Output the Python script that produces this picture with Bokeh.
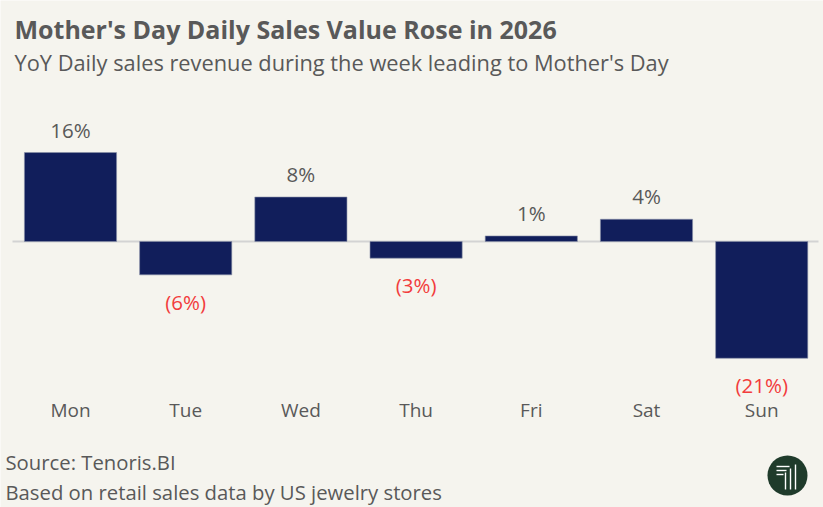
from bokeh.plotting import figure
from bokeh.models import Range1d, Label, ColumnDataSource
from bokeh.core.properties import value
from bokeh.embed import file_html
from bokeh.resources import INLINE
import numpy as np

days = ["Mon", "Tue", "Wed", "Thu", "Fri", "Sat", "Sun"]
yoy = [16, -6, 8, -3, 1, 4, -21]
labels = ["16%", "(6%)", "8%", "(3%)", "1%", "4%", "(21%)"]

title = "Mother's Day Daily Sales  Value Rose in 2026"
subtitle = "YoY Daily sales revenue during the week leading to Mother's Day"
source_txt = "Source: Tenoris.BI"
note_txt = "Based on retail sales data by US jewelry stores"

W, H = 823, 507
X0, XS = 12.4, 115.2      # pixel of category 0 left edge, px per category
Y0, YS = 241.0, 5.56      # pixel of zero line, px per percent

def X(px):
    return (px - X0) / XS

def Y(py):
    return (Y0 - py) / YS

BG = "#f5f4ee"
NAVY = "#111e5b"
GRAY = "#595959"
RED = "#f23c3c"
FONT = "Open Sans"

p = figure(width=W, height=H, output_backend="svg", toolbar_location=None,
           x_range=Range1d(X(0), X(W)), y_range=Range1d(Y(H), Y(0)),
           min_border=0, border_fill_color=BG, background_fill_color=BG)
p.axis.visible = False
p.grid.visible = False
p.outline_line_color = None

x = np.arange(len(days)) + 0.5
src = ColumnDataSource(dict(
    x=x, top=yoy, bottom=[0] * len(days), days=days, labels=labels,
    color=[GRAY if v >= 0 else RED for v in yoy],
    yoff=[-23 if v >= 0 else 27 for v in yoy],
))

p.segment(x0=X(12), x1=X(818), y0=0, y1=0, line_color="#d3d3d3", line_width=2)
p.vbar(x="x", top="top", bottom="bottom", width=0.8, source=src,
       fill_color=NAVY, line_color="#8a90a8", line_width=0.6)

p.text(x="x", y="top", text="labels", source=src, text_align="center",
       text_baseline="middle", y_offset="yoff", text_color="color",
       text_font=value(FONT), text_font_size="20.5px")

p.text(x="x", y=Y(409), text="days", source=src, text_align="center",
       text_baseline="middle", text_color=GRAY,
       text_font=value(FONT), text_font_size="19px")

def add_label(txt, px, py, size, bold=False):
    p.add_layout(Label(x=X(px), y=Y(py), text=txt, text_align="left",
                       text_baseline="middle", text_color=GRAY,
                       text_font=FONT, text_font_size=size,
                       text_font_style="bold" if bold else "normal"))

add_label(title, 14, 28, "25px", bold=True)
add_label(subtitle, 14, 62, "21.8px")
add_label(source_txt, 5, 461, "20.3px")
add_label(note_txt, 5, 491, "20.3px")

# logo
cx, cy = X(787), Y(475)
p.scatter(x=[cx], y=[cy], size=40, fill_color="#1f3b2b", line_color=None)
for yy, xe in [(466, 789), (470, 786), (474, 783)]:
    p.segment(x0=X(776), x1=X(xe), y0=Y(yy), y1=Y(yy),
              line_color="white", line_width=1.4)
for i, xx in enumerate([785, 790, 795]):
    p.segment(x0=X(xx), x1=X(xx), y0=Y(472 - i * 4), y1=Y(489),
              line_color="white", line_width=1.4)

open("out.html", "w").write(file_html(p, INLINE))
